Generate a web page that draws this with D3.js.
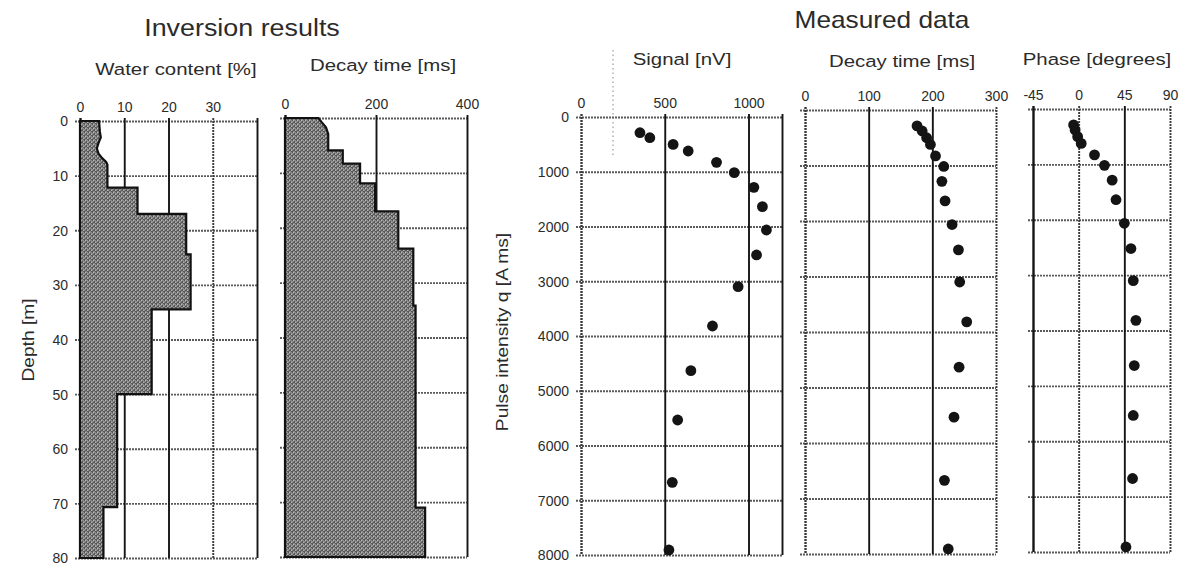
<!DOCTYPE html>
<html><head><meta charset="utf-8">
<script src="https://cdn.jsdelivr.net/npm/d3@7/dist/d3.min.js"></script>
<style>
html,body{margin:0;padding:0;background:#fff;}
svg text{font-family:"Liberation Sans",Arial,sans-serif;fill:#2b2b2b;}
</style></head>
<body>
<svg id="c" width="1188" height="566"></svg>
<script>
// ---------- data ----------
const depthTicks = [0,10,20,30,40,50,60,70,80];
const waterTicks = [0,10,20,30];
const invDecayTicks = [0,200,400];
const pulseTicks = [0,1000,2000,3000,4000,5000,6000,7000,8000];
const signalTicks = [0,500,1000];
const measDecayTicks = [0,100,200,300];
const phaseTicks = [-45,0,45,90];

// inversion: water content profile (depth m, %)
const waterDepth = [0,2,3,4,5,6,6.8,7.5,8,12.2,12.2,17,17,24.4,24.4,34.5,34.5,50,50,70.7,70.7,80];
const waterValue = [4.3,4.5,4.7,4.2,3.8,4.2,5.0,5.9,6.2,6.2,13,13,24,24,25,25,16.2,16.2,8.4,8.4,5.3,5.3];
// inversion: decay time profile (depth m, ms)
const invDecayDepth = [0,0.8,1.7,2.9,5.9,5.9,8.3,8.3,11.9,11.9,17,17,23.8,23.8,34.2,34.2,71,71,80];
const invDecayValue = [73,81,90,95,95,127,127,165,165,198,198,249,249,282,282,287,287,308,308];

// measured data
const pulse     = [287,378,500,621,828,1017,1285,1638,2064,2520,3099,3817,4633,5534,6673,7909];
const signal    = [352,411,550,640,809,915,1032,1083,1107,1048,938,785,656,577,545,525];
const measDecay = [176,184,191,197,205,218,215,220,231,241,243,254,242,234,219,225];
const phase     = [-5,-3.5,-1,2.5,15.6,25.4,33,36.8,45,51.5,53.8,56.4,54.8,53.8,53.1,46.6];

// ---------- drawing ----------
const svg = d3.select('#c');
const defs = svg.append('defs');
const pat = defs.append('pattern').attr('id','stip').attr('width',4).attr('height',4).attr('patternUnits','userSpaceOnUse');
pat.append('rect').attr('width',4).attr('height',4).attr('fill','#8c8c8c');
[[0,0],[2,1],[1,2],[3,3],[0,3],[2,2]].forEach(p=>pat.append('rect').attr('x',p[0]).attr('y',p[1]).attr('width',1).attr('height',1).attr('fill','#555'));
[[1,0],[3,2]].forEach(p=>pat.append('rect').attr('x',p[0]).attr('y',p[1]).attr('width',1).attr('height',1).attr('fill','#b8b8b8'));

const fmt = d => String(d);

function stretchedText(x, y, txt, size, sx, rot){
  return svg.append('text')
    .attr('transform', `translate(${x},${y}) rotate(${rot||0}) scale(${sx},1)`)
    .attr('text-anchor','middle').attr('font-size',size).text(txt);
}

function panel(cfg){
  const x = d3.scaleLinear().domain(cfg.xDomain).range(cfg.xRange);
  const y = d3.scaleLinear().domain(cfg.yDomain).range(cfg.yRange);
  const w = cfg.xRange[1]-cfg.xRange[0], h = cfg.yRange[1]-cfg.yRange[0];
  const g = svg.append('g');

  // horizontal grid + left ticks
  const ya = g.append('g').attr('transform',`translate(${cfg.xRange[0]},0)`)
    .call(d3.axisLeft(y).tickValues(cfg.yTicks).tickSize(-w).tickPadding(cfg.yPad||8)
      .tickFormat(cfg.yLabels ? fmt : ()=>''));
  ya.select('.domain').remove();
  ya.selectAll('line').attr('x1',-5).attr('stroke','#5a5a5a').attr('stroke-width',1.8).attr('stroke-dasharray','2,1');
  ya.selectAll('text').attr('font-size',14).attr('fill','#2b2b2b').attr('font-family','"Liberation Sans",Arial,sans-serif').attr('dy','0.35em');

  // vertical grid + top labels
  const xTickVals = Array.from(new Set(cfg.xTicks.concat([cfg.xDomain[1]])));
  const xa = g.append('g').attr('transform',`translate(0,${cfg.yRange[0]})`)
    .call(d3.axisTop(x).tickValues(xTickVals).tickSize(-h).tickPadding(cfg.xPad||9)
      .tickFormat(d => cfg.xTicks.includes(d) ? fmt(d) : ''));
  xa.select('.domain').remove();
  const dotted = cfg.dotted||[];
  xa.selectAll('.tick line').attr('y1',-3)
    .attr('stroke', d => dotted.includes(d) ? '#3a3a3a' : '#151515')
    .attr('stroke-width', d => d===cfg.xDomain[0] ? 2.4 : 1.9)
    .attr('stroke-dasharray', d => dotted.includes(d) ? '2,1' : null);
  xa.selectAll('text').attr('font-size',14).attr('fill','#2b2b2b').attr('font-family','"Liberation Sans",Arial,sans-serif');

  if (cfg.profile){
    const pts = cfg.profile.depth.map((d,i)=>({d, v: cfg.profile.value[i]}));
    const area = d3.area().y(p=>y(p.d)).x0(x(cfg.xDomain[0])).x1(p=>x(p.v));
    g.append('path').attr('d', area(pts)).attr('fill','url(#stip)')
      .attr('stroke','#111').attr('stroke-width',2.2).attr('stroke-linejoin','miter');
  }
  if (cfg.points){
    g.selectAll('circle.pt').data(cfg.points.y.map((p,i)=>({p, v: cfg.points.x[i]})))
      .enter().append('circle').attr('class','pt')
      .attr('cx', d=>x(d.v)).attr('cy', d=>y(d.p)).attr('r',5.4).attr('fill','#141414');
  }
  return {x,y,g};
}

// Inversion: water content
panel({xDomain:[0,40], xRange:[80,257], yDomain:[0,80], yRange:[121,558],
  xTicks: waterTicks, yTicks: depthTicks, yLabels:true, yPad:12, dotted:[30],
  profile:{depth: waterDepth, value: waterValue}});
// Inversion: decay time
panel({xDomain:[0,400], xRange:[285,467], yDomain:[0,80], yRange:[118,557],
  xTicks: invDecayTicks, yTicks: depthTicks, yLabels:false,
  profile:{depth: invDecayDepth, value: invDecayValue}});
// Measured: signal
panel({xDomain:[0,1200], xRange:[581,782], yDomain:[0,8000], yRange:[117,555],
  xTicks: signalTicks, yTicks: pulseTicks, yLabels:true, yPad:12, dotted:[0],
  points:{x: signal, y: pulse}});
// Measured: decay time
panel({xDomain:[0,300], xRange:[805,996], yDomain:[0,8000], yRange:[110,554],
  xTicks: measDecayTicks, yTicks: pulseTicks, yLabels:false, dotted:[0,300],
  points:{x: measDecay, y: pulse}});
// Measured: phase
panel({xDomain:[-45,90], xRange:[1033,1170], yDomain:[0,8000], yRange:[109,552],
  xTicks: phaseTicks, yTicks: pulseTicks, yLabels:false, dotted:[0,90],
  points:{x: phase, y: pulse}});

// faint dotted scan line in the signal area
svg.append('line').attr('x1',613).attr('x2',613).attr('y1',50).attr('y2',157)
  .attr('stroke','#888').attr('stroke-width',1).attr('stroke-dasharray','1.5,3');

// titles
stretchedText(242, 36, 'Inversion results', 24, 1.12);
stretchedText(882, 28, 'Measured data', 23, 1.14);
stretchedText(176, 75, 'Water content [%]', 17, 1.2);
stretchedText(383, 71, 'Decay time [ms]', 17, 1.2);
stretchedText(682, 65, 'Signal [nV]', 17, 1.2);
stretchedText(902, 67, 'Decay time [ms]', 17, 1.2);
stretchedText(1097, 65, 'Phase [degrees]', 17, 1.2);
// axis titles
stretchedText(34, 340, 'Depth [m]', 16, 1.2, -90);
stretchedText(508, 332, 'Pulse intensity q [A ms]', 16, 1.2, -90);
</script>
</body></html>
